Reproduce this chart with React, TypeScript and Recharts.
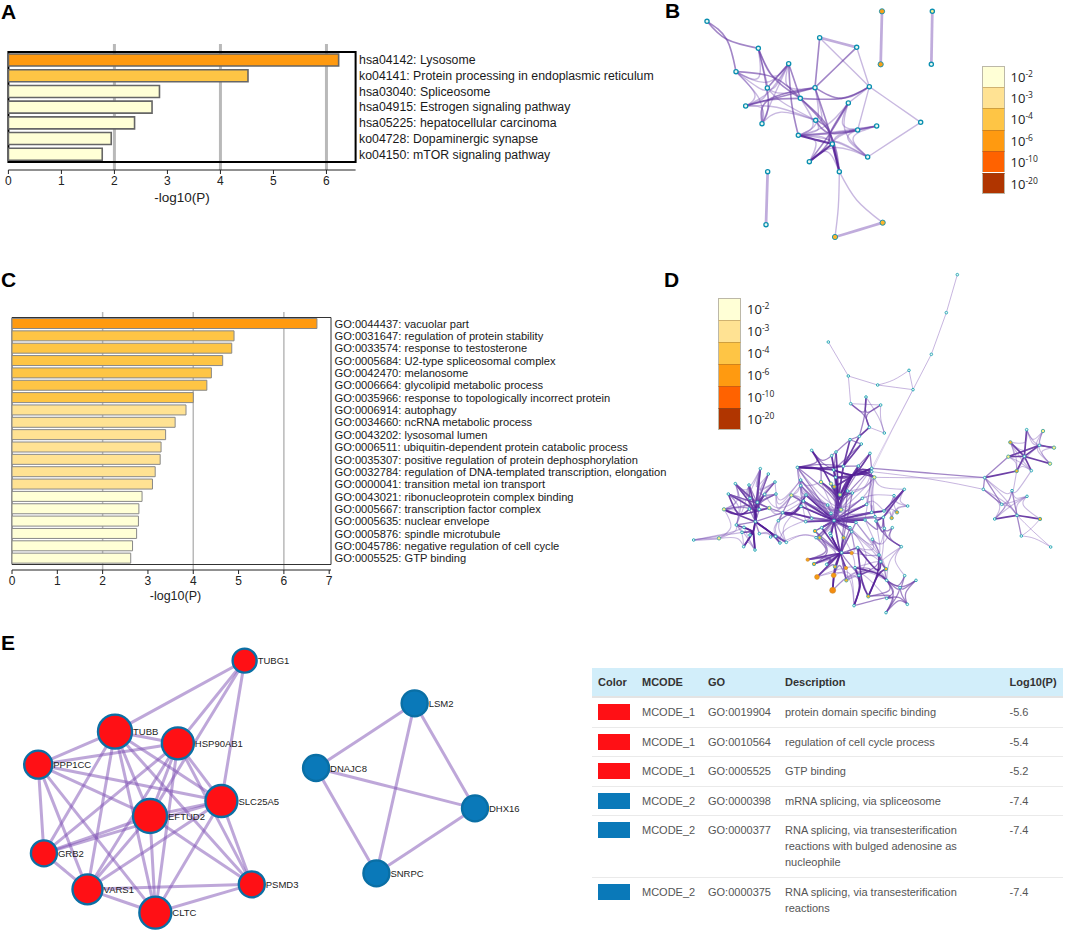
import { Bar, BarChart, CartesianGrid, Cell, ReferenceArea, Scatter, ScatterChart, XAxis, YAxis } from 'recharts';

const FONT = '"Liberation Sans", Arial, sans-serif';

// panel A
const keggTerms = [
  'hsa04142: Lysosome',
  'ko04141: Protein processing in endoplasmic reticulum',
  'hsa03040: Spliceosome',
  'hsa04915: Estrogen signaling pathway',
  'hsa05225: hepatocellular carcinoma',
  'ko04728: Dopaminergic synapse',
  'ko04150: mTOR signaling pathway',
];
const keggValues = [6.23, 4.52, 2.85, 2.71, 2.38, 1.94, 1.77];
const keggTicks = [0, 1, 2, 3, 4, 5, 6];

// panel C
const goTerms = [
  'GO:0044437: vacuolar part',
  'GO:0031647: regulation of protein stability',
  'GO:0033574: response to testosterone',
  'GO:0005684: U2-type spliceosomal complex',
  'GO:0042470: melanosome',
  'GO:0006664: glycolipid metabolic process',
  'GO:0035966: response to topologically incorrect protein',
  'GO:0006914: autophagy',
  'GO:0034660: ncRNA metabolic process',
  'GO:0043202: lysosomal lumen',
  'GO:0006511: ubiquitin-dependent protein catabolic process',
  'GO:0035307: positive regulation of protein dephosphorylation',
  'GO:0032784: regulation of DNA-templated transcription, elongation',
  'GO:0000041: transition metal ion transport',
  'GO:0043021: ribonucleoprotein complex binding',
  'GO:0005667: transcription factor complex',
  'GO:0005635: nuclear envelope',
  'GO:0005876: spindle microtubule',
  'GO:0045786: negative regulation of cell cycle',
  'GO:0005525: GTP binding',
];
const goValues = [6.73, 4.9, 4.85, 4.65, 4.4, 4.3, 4.0, 3.84, 3.6, 3.39, 3.29, 3.27, 3.16, 3.1, 2.87, 2.8, 2.79, 2.75, 2.66, 2.62];
const goTicks = [0, 1, 2, 3, 4, 5, 6, 7];
const gridValues = [2, 4, 6];

const legendExponents = ['-2', '-3', '-4', '-6', '-10', '-20'];
const legendColors = ['#ffffd6', '#ffe293', '#fec545', '#ff9a10', '#ff6200', '#b03500'];

// network nodes: id, x, y, kind. Units are those of each panel's own layout
type NodeRow = [string, number, number, string];
type EdgeGroup = { via?: number[]; bend?: number; weight: string; pairs: string };

const bNodes: NodeRow[] = [
  ['n0', 141, 64, 'c'], ['n1', 295, 145, 'c'], ['n2', 386, 191, 'c'], ['n3', 228, 215, 'c'], ['n4', 322, 264, 'c'],
  ['n5', 257, 318, 'c'], ['n6', 306, 371, 'c'], ['n7', 465, 263, 'c'], ['n8', 421, 295, 'c'], ['n9', 479, 113, 'c'],
  ['n10', 590, 142, 'c'], ['n11', 628, 260, 'c'], ['n12', 565, 309, 'c'], ['n13', 467, 361, 'c'], ['n14', 415, 406, 'c'],
  ['n15', 593, 390, 'c'], ['n16', 650, 378, 'c'], ['n17', 517, 432, 'c'], ['n18', 623, 471, 'c'], ['n19', 448, 485, 'c'],
  ['n20', 538, 515, 'c'], ['n21', 782, 367, 'c'], ['n22', 668, 668, 'a'], ['n23', 525, 711, 'a'], ['n24', 666, 34, 'o'],
  ['n25', 662, 193, 'o'], ['n26', 817, 34, 'y'], ['n27', 814, 193, 'c'], ['n28', 323, 515, 'c'], ['n29', 318, 674, 'c'],
];
const bEdges: EdgeGroup[] = [
  { via: [335, 300], bend: 0.45, weight: 'light', pairs: 'n1-n3 n3-n5 n5-n6 n1-n2 n2-n3 n2-n5 n2-n4 n3-n4 n4-n5 n2-n6 n3-n6 n1-n4 n4-n7 n2-n7 n5-n13 n6-n13 n4-n13' },
  { via: [510, 400], bend: 0.45, weight: 'light', pairs: 'n12-n15 n15-n16 n15-n18 n16-n18 n12-n18 n14-n19 n19-n20 n17-n18 n14-n17 n18-n19 n12-n14 n16-n17 n14-n18 n15-n17 n13-n14 n8-n14 n7-n14 n7-n13 n14-n16' },
  { weight: 'light', pairs: 'n9-n11 n10-n11 n11-n12 n11-n15 n11-n21 n18-n21' },
  { weight: 'mid', pairs: 'n7-n9 n7-n10 n2-n4' },
  { via: [200, 118], bend: 1, weight: 'mid', pairs: 'n0-n1 n0-n3' },
  { via: [545, 295], bend: 1, weight: 'mid', pairs: 'n11-n7 n11-n8' },
  { via: [395, 310], bend: 1, weight: 'mid', pairs: 'n2-n14' },
  { via: [325, 300], bend: 1, weight: 'mid', pairs: 'n1-n6 n5-n7 n5-n8 n6-n7' },
  { via: [340, 232], bend: 1, weight: 'mid', pairs: 'n3-n8 n1-n8' },
  { weight: 'mid', pairs: 'n2-n8' },
  { via: [510, 400], bend: 1, weight: 'mid', pairs: 'n14-n15 n12-n19 n7-n20 n8-n20 n13-n20 n12-n17 n8-n19 n13-n15' },
  { weight: 'dark', pairs: 'n17-n19 n17-n20 n14-n17' },
  { weight: 'mid', pairs: 'n15-n16' },
  { via: [590, 600], bend: 1, weight: 'light', pairs: 'n20-n22' },
  { via: [535, 620], bend: 1, weight: 'light', pairs: 'n20-n23' },
  { weight: 'thick', pairs: 'n9-n10 n22-n23 n24-n25 n26-n27 n28-n29' },
];

const dNodes: NodeRow[] = [
  ['t1', 862, 29, 'c'], ['t2', 829, 143, 'c'], ['t3', 784, 268, 'c'], ['t4', 729, 374, 'c'], ['t5', 717, 316, 'c'], ['t6', 623, 360, 'c'],
  ['t7', 535, 333, 'c'], ['t8', 475, 231, 'c'], ['t9', 542, 416, 'c'], ['t10', 588, 396, 'c'], ['t11', 632, 420, 'c'], ['t12', 598, 487, 'c'],
  ['t13', 643, 504, 'c'], ['t14', 568, 514, 'c'], ['t15', 540, 524, 'c'], ['t16', 574, 537, 'c'],
  ['u1', 425, 556, 'c'], ['u2', 382, 607, 'c'], ['u3', 485, 572, 'c'], ['u4', 498, 561, 'c'], ['u5', 520, 604, 'c'], ['u6', 491, 615, 'c'],
  ['u7', 600, 565, 'c'], ['u8', 565, 603, 'c'], ['u9', 605, 610, 'c'], ['u10', 605, 620, 'c'], ['u11', 613, 637, 'y'], ['u12', 497, 637, 'c'],
  ['c1', 453, 651, 'y'], ['c2', 483, 656, 'y'], ['c3', 493, 665, 'a'], ['c4', 510, 689, 'y'], ['c5', 533, 678, 'c'], ['c6', 547, 684, 'c'],
  ['c7', 513, 734, 'y'], ['c8', 492, 767, 'c'], ['c9', 392, 645, 'c'], ['c10', 392, 662, 'c'], ['c11', 364, 691, 'y'], ['c12', 408, 690, 'c'],
  ['c13', 400, 708, 'c'], ['c14', 393, 724, 'c'], ['c15', 425, 760, 'c'], ['c16', 407, 770, 'c'], ['c17', 473, 720, 'c'], ['c18', 483, 745, 'c'],
  ['c19', 577, 700, 'c'], ['c20', 590, 718, 'c'], ['c21', 605, 742, 'c'], ['c22', 585, 765, 'c'], ['c23', 615, 755, 'c'], ['c24', 558, 772, 'c'],
  ['c25', 540, 788, 'c'], ['c26', 545, 800, 'c'], ['c27', 480, 805, 'c'], ['c28', 455, 788, 'c'], ['c29', 435, 798, 'a'], ['c30', 449, 818, 'a'],
  ['c31', 483, 812, 'c'], ['c32', 521, 818, 'a'], ['c33', 438, 818, 'c'],
  ['r1', 703, 673, 'c'], ['r2', 672, 692, 'c'], ['r3', 713, 723, 'c'], ['r4', 681, 742, 'a'], ['r5', 665, 759, 'a'], ['r6', 642, 738, 'c'],
  ['r7', 640, 757, 'c'], ['r8', 618, 768, 'c'], ['r9', 667, 788, 'c'], ['r10', 643, 790, 'c'], ['r11', 607, 823, 'c'], ['r12', 694, 845, 'c'],
  ['l1', 413, 884, 'o'], ['l2', 432, 897, 'a'], ['l3', 441, 936, 'o2'], ['l4', 491, 931, 'o2'], ['l5', 488, 976, 'o3'], ['l6', 495, 905, 'a'],
  ['l7', 528, 909, 'o'], ['l8', 470, 898, 'c'], ['l9', 545, 864, 'o'], ['l10', 563, 848, 'c'], ['l11', 515, 863, 'c'], ['l12', 529, 946, 'a'],
  ['l13', 567, 931, 'c'], ['l14', 555, 908, 'c'], ['l15', 627, 870, 'c'], ['l16', 632, 890, 'c'], ['l17', 648, 912, 'a'], ['l18', 650, 946, 'c'],
  ['l19', 704, 932, 'c'], ['l20', 738, 946, 'c'], ['l21', 690, 968, 'c'], ['l22', 650, 1000, 'c'], ['l23', 595, 994, 'a'], ['l24', 552, 1022, 'c'],
  ['l25', 648, 1043, 'c'], ['l26', 712, 1018, 'c'],
  ['a1', 271, 611, 'c'], ['a2', 295, 627, 'c'], ['a3', 196, 656, 'c'], ['a4', 237, 660, 'c'], ['a5', 175, 687, 'c'], ['a6', 315, 651, 'c'],
  ['a7', 318, 687, 'c'], ['a8', 284, 688, 'c'], ['a9', 240, 700, 'c'], ['a10', 262, 712, 'c'], ['a11', 162, 733, 'y'], ['a12', 238, 732, 'c'],
  ['a13', 298, 729, 'y'], ['a14', 268, 733, 'c'], ['a15', 338, 743, 'c'], ['a16', 325, 767, 'c'], ['a17', 256, 770, 'c'], ['a18', 199, 780, 'c'],
  ['a19', 222, 787, 'c'], ['a20', 216, 802, 'c'], ['a21', 147, 820, 'y'], ['a22', 71, 825, 'c'], ['a23', 221, 845, 'c'], ['a24', 255, 855, 'c'],
  ['a25', 268, 806, 'c'], ['a26', 302, 816, 'c'], ['a27', 317, 814, 'c'], ['a28', 330, 834, 'c'], ['a29', 349, 832, 'c'], ['a30', 240, 810, 'c'],
  ['k1', 1070, 494, 'c'], ['k2', 1119, 498, 'y'], ['k3', 1152, 548, 'y'], ['k4', 1140, 596, 'y'], ['k5', 1108, 541, 'c'], ['k6', 1063, 574, 'c'],
  ['k7', 1021, 532, 'a'], ['k8', 1015, 575, 'y'], ['k9', 1040, 618, 'a'], ['k10', 1084, 617, 'c'], ['k11', 944, 638, 'c'], ['k12', 940, 673, 'c'],
  ['k13', 1026, 677, 'c'], ['k14', 1071, 694, 'c'], ['k15', 995, 718, 'c'], ['k16', 974, 762, 'c'], ['k17', 1041, 751, 'c'], ['k18', 1110, 762, 'a'],
  ['k19', 1054, 813, 'c'], ['k20', 1142, 846, 'c'],
];
const dEdges: EdgeGroup[] = [
  { weight: 'faint', pairs: 't1-t2 t2-t3 t3-t4 t4-t6 t4-t5 t6-t7 t7-t8 t7-t9 t9-t11 t12-t13' },
  { via: [665, 495], bend: 0.4, weight: 'wisp', pairs: 't4-u10 t4-u9' },
  { via: [670, 345], bend: 1, weight: 'faint', pairs: 't5-t6' },
  { via: [630, 460], bend: 0.7, weight: 'light', pairs: 't11-t13 t10-t13' },
  { via: [585, 450], bend: 0.8, weight: 'mid', pairs: 't9-t12 t10-t12 t11-t12 t9-t10 t10-t11 t10-t14' },
  { weight: 'dark', pairs: 't14-u5 t16-u5 t15-u5 t12-t14' },
  { weight: 'mid', pairs: 't14-t15 t15-t16 t16-u6 u8-u5 u7-u8 u7-u9 t15-u4 u3-u4 u4-u6 u3-u6' },
  { via: [455, 595], bend: 0.7, weight: 'mid', pairs: 'u1-u3 u1-u6 u1-u2 u2-u5 u1-c1' },
  { via: [440, 610], bend: 1, weight: 'dark', pairs: 'u2-u6 u2-u12 u2-u5' },
  { via: [550, 630], bend: 1, weight: 'dark', pairs: 'u9-u6 u10-c8 u11-c8 u8-c3 u9-u12 u10-u6 u11-c4 u7-u12' },
  { via: [505, 700], bend: 0.9, weight: 'dark', pairs: 'u6-c8 u12-c8 u5-c8 c4-c8 c3-c8 c2-c8 c1-c8 c5-c8 c6-c8 u3-c8 u4-c8 u8-c8 u1-c8' },
  { via: [505, 700], bend: 0.5, weight: 'mid', pairs: 'u6-c8 u5-c8 c4-c8 c2-c8 u7-c8 u9-c8 u2-c7 c1-c7 c5-c7 c6-c7' },
  { weight: 'mid', pairs: 'c7-c8 c17-c8 c18-c8 c12-c8 c13-c8 c14-c8 c15-c8 c16-c8 c19-c8 c20-c8 c21-c8 c22-c8 c23-c8 c24-c8 c25-c8 c26-c8 c27-c8 c28-c8 c29-c8 c30-c8 c31-c8 c32-c8 c33-c8 c9-c8 c10-c8 c11-c8 u2-c8 a15-c8 r6-c8 r7-c8' },
  { weight: 'dark', pairs: 'c14-c8 c16-c8 c21-c8 c22-c8 c28-c8 c31-c8 c25-c8 c12-c8 c13-c8 c20-c8 c24-c8' },
  { via: [500, 765], bend: 0.6, weight: 'light', pairs: 'c9-c20 c10-c21 c11-c22 c12-c19 c13-c23 c14-c24 c15-c25 c16-c26 c17-c22 u2-c19 u9-c17 u11-c16 c1-c25 c2-c26 c5-c33 c6-c29 c9-c24 c10-c25 c11-c26 c12-c20 c13-c21 c19-c28 c20-c29 c21-c33 c23-c30' },
  { via: [390, 690], bend: 0.5, weight: 'light', pairs: 'c9-c11 c9-c10 c10-c12 c11-c13 c12-c14 c13-c15 c9-c15 u2-c9 u2-c10 u2-c1 c11-c14 c10-c16 c9-c12 c10-c13 c9-c17 c10-c17 c12-c17' },
  { via: [600, 680], bend: 0.4, weight: 'light', pairs: 'u11-c19 u10-c20 u11-r1 c19-c20 c20-c21 c21-c23 u11-c21 c19-r2 c20-r6 u9-c21 u10-c22 u11-c23 c5-u11 c6-u10' },
  { weight: 'dark', pairs: 'r1-r7 r1-r6 c21-r6 r7-r8' },
  { via: [665, 720], bend: 0.4, weight: 'light', pairs: 'r1-r2 r2-r3 r3-r4 r2-r4 r4-r5 r4-r6 r5-r7 r5-r3 r1-r3 r6-r5 r2-r6 r2-r7' },
  { via: [640, 820], bend: 0.5, weight: 'mid', pairs: 'r7-r9 r7-r10 r8-r12 r9-r12 r10-r12 r8-r10 r8-c22 r7-c23' },
  { via: [640, 880], bend: 0.4, weight: 'light', pairs: 'r11-l15 r11-r10 r12-l16 r12-l19 c24-r11 c26-r11 c25-l15 r9-r11 l10-r11 c24-l15 c25-l13 c26-l16 c22-l15 r8-l15 r10-l16 r11-l17 r12-l18 l9-l15 l10-l17 l14-l16 l13-l18 l12-l18 l12-l13' },
  { via: [510, 865], bend: 0.7, weight: 'dark', pairs: 'l1-l11 l2-l11 l3-l11 l4-l11 l6-l11 l7-l11 l8-l11 l9-l11 c8-l11 c27-l11 c31-l11 c28-l11 c32-l11' },
  { via: [490, 950], bend: 0.8, weight: 'dark', pairs: 'l5-l4 l5-l6' },
  { via: [510, 865], bend: 0.5, weight: 'mid', pairs: 'l12-l11 l13-l11 l10-l11 c30-l11 c32-l11 c33-l1 c29-l2 l1-l8 l2-l8 l3-l4 l4-l12 l7-l12 l9-l10 c5-l11 c6-l11 c24-l11 c25-l11 c26-l11 c29-l11' },
  { via: [560, 880], bend: 0.5, weight: 'light', pairs: 'l5-l23 l5-l18 l12-l22 l3-l12 l1-c30 l2-c33 c26-l9 c25-l10 c32-l14 l10-l15 l3-l24 l4-l24 l7-l23' },
  { via: [575, 960], bend: 0.7, weight: 'dark', pairs: 'l14-l24 l13-l24 l10-l23' },
  { via: [625, 925], bend: 0.8, weight: 'dark', pairs: 'l10-l16 l14-l18 l15-l23 l23-l17' },
  { via: [690, 985], bend: 0.5, weight: 'mid', pairs: 'l22-l25 l18-l25 l18-l22 l21-l25 l18-l21 l19-l18 l20-l18 l19-l21 l20-l21 l20-l26 l21-l26 l26-l22 l26-l25 l23-l18 l23-l22 l24-l22' },
  { via: [640, 905], bend: 0.5, weight: 'mid', pairs: 'l15-l17 l16-l17 l17-l18 l15-l13 l15-l16 l13-l14' },
  { via: [256, 735], bend: 0.85, weight: 'dark', pairs: 'a1-a17 a3-a17 a4-a17 a5-a17 a8-a17 a10-a17' },
  { via: [262, 715], bend: 0.7, weight: 'mid', pairs: 'a3-a10 a4-a10 a5-a10 a1-a10 a1-a14 a2-a14 a6-a14 a7-a14 a8-a14 a9-a14 a11-a14 a3-a13 a5-a13' },
  { via: [205, 750], bend: 0.9, weight: 'dark', pairs: 'a11-a17 a5-a12 a11-a13' },
  { via: [250, 800], bend: 0.9, weight: 'dark', pairs: 'a17-a24 a17-a23 a18-a30 a19-a30 a20-a30 a24-a30 a23-a30' },
  { via: [305, 805], bend: 0.9, weight: 'dark', pairs: 'a17-a29 a17-a28 a17-a26' },
  { weight: 'mid', pairs: 'a18-a17 a25-a17 a9-a17 a12-a17 a14-a17 a13-a14 a8-a10 a2-a10 a6-a10 a7-a10 a15-a17 a15-a13 a16-a15 a12-a14 a4-a12 a3-a9 a4-a9' },
  { via: [370, 745], bend: 1, weight: 'dark', pairs: 'c14-a15 c15-a15 c12-a15' },
  { weight: 'mid', pairs: 'a15-c16 c11-a15 c14-a16' },
  { via: [230, 720], bend: 0.45, weight: 'light', pairs: 'a1-a2 a2-a6 a6-a7 a7-a13 a1-a4 a3-a4 a3-a5 a5-a11 a11-a18 a5-a18 a3-a11 a1-a3 a1-a6 a1-a7 a2-a7 a5-a9 a11-a14 a11-a12 a3-a18 a4-a18' },
  { via: [225, 800], bend: 0.4, weight: 'light', pairs: 'a18-a23 a21-a18 a22-a19 a22-a20 a21-a23 a18-a24 a11-a21 a19-a24 a23-a24' },
  { via: [300, 790], bend: 0.4, weight: 'light', pairs: 'a16-a27 a26-a29 a27-a29 a25-a28 a25-a26 a16-a28 a29-c14 a28-c15 a13-c10 a7-c9 a6-c9 a8-c12 a7-c11 a13-c13 a15-a29' },
  { via: [400, 800], bend: 0.6, weight: 'faint', pairs: 'a29-c30 a28-c33' },
  { weight: 'thick', pairs: 'a21-a22' },
  { weight: 'mid', pairs: 'u9-k11' },
  { via: [800, 640], bend: 0.5, weight: 'faint', pairs: 'u10-k12 u11-k11' },
  { weight: 'dark', pairs: 'k1-k6 k3-k5 k4-k6 k6-k7 k5-k8 k6-k8 k6-k9 k6-k10 k9-k11 k16-k17 k17-k18 k5-k6' },
  { via: [1085, 550], bend: 0.5, weight: 'light', pairs: 'k1-k5 k1-k2 k2-k5 k2-k3 k3-k4 k4-k5 k1-k7 k2-k4 k1-k3' },
  { via: [1050, 585], bend: 0.4, weight: 'light', pairs: 'k7-k8 k8-k9 k9-k10 k7-k9 k8-k10 k7-k10 k5-k9 k5-k7' },
  { weight: 'mid', pairs: 'k8-k11 k11-k12 k12-k15 k11-k15 k13-k17 k17-k19' },
  { via: [1025, 715], bend: 0.45, weight: 'light', pairs: 'k11-k13 k11-k17 k12-k16 k15-k16 k13-k15 k13-k14 k13-k16 k14-k15 k14-k16 k14-k17 k14-k18 k15-k17 k9-k13 k10-k13 k12-k17' },
  { via: [1085, 800], bend: 0.3, weight: 'faint', pairs: 'k18-k19 k19-k20 k17-k20' },
];

// panel E nodes: name, x, y, weight, in the stretched units of the layout
const eNodes: NodeRow[] = [
  ['TUBG1', 685, 92, 'r0'], ['TUBB', 322, 305, 'r5'], ['HSP90AB1', 498, 340, 'r4'], ['PPP1CC', 107, 404, 'r2'], ['SLC25A5', 620, 513, 'r4'],
  ['EFTUD2', 420, 558, 'r5'], ['GRB2', 123, 670, 'r1'], ['VARS1', 245, 778, 'r3'], ['PSMD3', 705, 763, 'r1'], ['CLTC', 435, 848, 'r4'],
  ['LSM2', 1161, 220, 'b1'], ['DNAJC8', 885, 414, 'b1'], ['DHX16', 1330, 535, 'b1'], ['SNRPC', 1054, 730, 'b1'],
];
const eEdges: EdgeGroup[] = [
  {
    weight: 'ppi',
    pairs: 'TUBB-TUBG1 HSP90AB1-TUBG1 EFTUD2-TUBG1 SLC25A5-TUBG1 TUBB-HSP90AB1 TUBB-PPP1CC TUBB-SLC25A5 TUBB-EFTUD2 TUBB-GRB2 TUBB-VARS1 TUBB-CLTC TUBB-PSMD3 HSP90AB1-PPP1CC HSP90AB1-SLC25A5 HSP90AB1-EFTUD2 HSP90AB1-GRB2 HSP90AB1-VARS1 HSP90AB1-CLTC HSP90AB1-PSMD3 PPP1CC-SLC25A5 PPP1CC-EFTUD2 PPP1CC-GRB2 PPP1CC-VARS1 PPP1CC-CLTC SLC25A5-EFTUD2 SLC25A5-GRB2 SLC25A5-VARS1 SLC25A5-CLTC SLC25A5-PSMD3 EFTUD2-GRB2 EFTUD2-VARS1 EFTUD2-CLTC EFTUD2-PSMD3 GRB2-VARS1 VARS1-CLTC VARS1-PSMD3 CLTC-PSMD3 LSM2-DNAJC8 LSM2-SNRPC LSM2-DHX16 DNAJC8-DHX16 DNAJC8-SNRPC DHX16-SNRPC',
  },
];

const tableRows = [
  ['#ff1015', 'MCODE_1', 'GO:0019904', 'protein domain specific binding', '-5.6'],
  ['#ff1015', 'MCODE_1', 'GO:0010564', 'regulation of cell cycle process', '-5.4'],
  ['#ff1015', 'MCODE_1', 'GO:0005525', 'GTP binding', '-5.2'],
  ['#0a79b9', 'MCODE_2', 'GO:0000398', 'mRNA splicing, via spliceosome', '-7.4'],
  ['#0a79b9', 'MCODE_2', 'GO:0000377', 'RNA splicing, via transesterification reactions with bulged adenosine as nucleophile', '-7.4'],
  ['#0a79b9', 'MCODE_2', 'GO:0000375', 'RNA splicing, via transesterification reactions', '-7.4'],
];
const tableHeader = ['Color', 'MCODE', 'GO', 'Description', 'Log10(P)'];

const WEIGHTS: Record<string, { stroke: string; width: number }> = {
  wisp: { stroke: 'rgba(130,90,185,0.3)', width: 0.9 },
  faint: { stroke: 'rgba(130,90,185,0.45)', width: 1 },
  light: { stroke: 'rgba(125,85,180,0.42)', width: 1.1 },
  mid: { stroke: 'rgba(105,60,165,0.62)', width: 1.3 },
  dark: { stroke: 'rgba(84,30,150,0.85)', width: 1.7 },
  thick: { stroke: 'rgba(130,90,185,0.5)', width: 2.2 },
  ppi: { stroke: 'rgba(125,80,180,0.5)', width: 3 },
};

const bandColor = (v: number) => {
  if (v >= 6) return legendColors[3];
  if (v >= 4) return legendColors[2];
  if (v >= 3) return legendColors[1];
  return legendColors[0];
};

function PanelLetter({ text, left, top }: { text: string; left: number; top: number }) {
  return <div style={{ position: 'absolute', left, top, font: `bold 21px ${FONT}`, lineHeight: '21px', color: '#000' }}>{text}</div>;
}

function TermChart(props: {
  terms: string[]; values: number[]; ticks: number[]; max: number; left: number; top: number; width: number; height: number;
  plotLeft: number; plotTop: number; axisWidth: number; axisHeight: number; barSize: number; pad: number;
  barStroke: string; barStrokeWidth: number; gridWidth: number; frameWidth: number; frame: string; fontSize: number;
  labelSize: number; labelOffset: number; labelDx: number;
}) {
  const data = props.terms.map((term, i) => ({ term, value: props.values[i] }));
  // plain text so that the long terms stay on one line
  const termTick = ({ x, y, payload }: any) => (
    <text x={x + 3.5} y={y + props.fontSize * 0.36} fontSize={props.fontSize} fontFamily={FONT} fill="#1a1a1a">
      {payload.value}
    </text>
  );
  return (
    <div style={{ position: 'absolute', left: props.left, top: props.top }}>
      <BarChart
        width={props.width}
        height={props.height}
        data={data}
        layout="vertical"
        barCategoryGap={0}
        margin={{ top: props.plotTop, left: props.plotLeft, right: 0, bottom: 0 }}
      >
        <CartesianGrid horizontal={false} verticalValues={gridValues} stroke="#b9b9b9" strokeWidth={props.gridWidth} />
        <XAxis
          type="number"
          domain={[0, props.max]}
          ticks={props.ticks}
          height={props.axisHeight}
          tickSize={4}
          tickMargin={2}
          tick={{ fontSize: 12, fill: '#222', fontFamily: FONT }}
          stroke="#222"
          label={{ value: '-log10(P)', position: 'insideBottom', offset: props.labelOffset, dx: props.labelDx, fontSize: props.labelSize, fill: '#222', fontFamily: FONT }}
        />
        <YAxis
          type="category"
          dataKey="term"
          orientation="right"
          width={props.axisWidth}
          interval={0}
          axisLine={false}
          tickLine={false}
          tickSize={0}
          tickMargin={0}
          padding={{ top: props.pad, bottom: props.pad }}
          tick={termTick}
        />
        <Bar dataKey="value" barSize={props.barSize} stroke={props.barStroke} strokeWidth={props.barStrokeWidth} isAnimationActive={false}>
          {data.map((d) => (
            <Cell key={d.term} fill={bandColor(d.value)} />
          ))}
        </Bar>
        <ReferenceArea x1={0} x2={props.max} fill="none" stroke={props.frame} strokeWidth={props.frameWidth} fillOpacity={0} />
      </BarChart>
    </div>
  );
}

const NoPoint = () => <g />;

function NetworkChart(props: {
  nodes: NodeRow[]; edges: EdgeGroup[]; left: number; top: number; width: number; height: number; xMax: number; yMax: number;
  shape: (p: any) => any; lineScale?: number;
}) {
  const pos: Record<string, number[]> = {};
  props.nodes.forEach(([id, x, y]) => {
    pos[id] = [x, y];
  });
  const lines: { key: string; weight: string; pts: { x: number; y: number }[] }[] = [];
  props.edges.forEach((group, g) => {
    group.pairs.split(' ').forEach((pair) => {
      const [a, b] = pair.split('-');
      const [ax, ay] = pos[a];
      const [bx, by] = pos[b];
      const mx = (ax + bx) / 2;
      const my = (ay + by) / 2;
      const via = group.via ?? [mx, my];
      const bend = group.bend ?? 0;
      lines.push({
        key: `${g}-${pair}`,
        weight: group.weight,
        pts: [{ x: ax, y: ay }, { x: mx + (via[0] - mx) * bend, y: my + (via[1] - my) * bend }, { x: bx, y: by }],
      });
    });
  });
  const nodeData = props.nodes.map(([id, x, y, kind]) => ({ id, x, y, kind }));
  const lineScale = props.lineScale ?? 1;
  return (
    <div style={{ position: 'absolute', left: props.left, top: props.top }}>
      <ScatterChart width={props.width} height={props.height} margin={{ top: 0, right: 0, bottom: 0, left: 0 }}>
        <XAxis type="number" dataKey="x" domain={[0, props.xMax]} hide />
        <YAxis type="number" dataKey="y" domain={[0, props.yMax]} reversed hide />
        {lines.map((l) => (
          <Scatter
            key={l.key}
            data={l.pts}
            line={{ stroke: WEIGHTS[l.weight].stroke, strokeWidth: WEIGHTS[l.weight].width * lineScale }}
            lineJointType="natural"
            shape={NoPoint}
            isAnimationActive={false}
          />
        ))}
        <Scatter data={nodeData} shape={props.shape} isAnimationActive={false} />
      </ScatterChart>
    </div>
  );
}

const DOT_FILL: Record<string, string> = { c: '#eefaf2', y: '#fff08a', a: '#fbb52c', o: '#f7a11a', o2: '#f89a12', o3: '#f48c10' };

const bNodeShape = (p: any) => {
  const kind = p.payload.kind;
  const warm = kind === 'a' || kind === 'o';
  return <circle cx={p.cx} cy={p.cy} r={warm ? 2.6 : 2.1} fill={DOT_FILL[kind]} stroke="#0a8fb0" strokeWidth={warm ? 0.9 : 1.3} />;
};

const dNodeShape = (p: any) => {
  const kind = p.payload.kind;
  const r = kind === 'o3' ? 3 : kind === 'o2' ? 2.4 : kind === 'c' ? 1.3 : 1.7;
  const stroke = kind[0] === 'o' ? '#c98a30' : kind === 'c' ? '#22a5b5' : '#4aa8a0';
  return <circle cx={p.cx} cy={p.cy} r={r} fill={DOT_FILL[kind]} stroke={stroke} strokeWidth={kind[0] === 'o' ? 0.6 : 0.9} />;
};

const eNodeShape = (p: any) => {
  const { kind, id } = p.payload;
  const r = 12 + Number(kind.slice(1)) * 1;
  const fill = kind[0] === 'r' ? '#ff1015' : '#0a79b9';
  return (
    <g>
      <circle cx={p.cx} cy={p.cy} r={r} fill={fill} stroke="#0a6fa5" strokeWidth={2.4} />
      <text x={p.cx + r + 1} y={p.cy + 3.5} fontSize={9.5} fontFamily={FONT} fill="#222">
        {id}
      </text>
    </g>
  );
};

function PLegend({ left, top, rowHeight }: { left: number; top: number; rowHeight: number }) {
  return (
    <div style={{ position: 'absolute', left, top }}>
      {legendColors.map((c, i) => (
        <div key={c} style={{ position: 'absolute', left: 0, top: i * rowHeight, width: 23, height: rowHeight, boxSizing: 'border-box', background: c, borderTop: i ? `1px solid rgba(120,90,50,0.35)` : '1px solid #bcb8a8', borderLeft: '1px solid #bcb8a8', borderRight: '1px solid #bcb8a8', borderBottom: i === 5 ? '1px solid #bcb8a8' : 'none' }} />
      ))}
      {legendExponents.map((e, i) => (
        <div key={e} style={{ position: 'absolute', left: 29, top: i * rowHeight + 3, font: `13px "Open Sans", ${FONT}`, lineHeight: '16px', color: '#222', whiteSpace: 'nowrap' }}>
          10<sup style={{ fontSize: 8.5, lineHeight: 0 }}>{e}</sup>
        </div>
      ))}
    </div>
  );
}

const COL_WIDTHS = [50, 66, 77, 224.5, 53.5];

function MiniTable() {
  const cell = { padding: '6.25px 0 6.25px 0', verticalAlign: 'top' as const, textAlign: 'left' as const };
  return (
    <table style={{ position: 'absolute', left: 592, top: 668, width: 471, tableLayout: 'fixed', borderCollapse: 'collapse', font: `11px ${FONT}`, lineHeight: '16px', color: '#555' }}>
      <colgroup>
        {COL_WIDTHS.map((w, i) => (
          <col key={i} style={{ width: w }} />
        ))}
      </colgroup>
      <thead>
        <tr style={{ background: '#d2eefa', color: '#333', height: 28, borderBottom: '2px solid #e4e4e4' }}>
          {tableHeader.map((h, i) => (
            <th key={h} style={{ ...cell, padding: i === 0 ? '6px 0 6px 6px' : '6px 0', fontWeight: 700 }}>{h}</th>
          ))}
        </tr>
      </thead>
      <tbody>
        {tableRows.map((row, r) => (
          <tr key={row[2]} style={{ borderBottom: r < tableRows.length - 1 ? '1.5px solid #eaeaea' : 'none' }}>
            <td style={{ ...cell, paddingLeft: 6 }}>
              <div style={{ width: 32, height: 16, background: row[0] }} />
            </td>
            {row.slice(1).map((t, i) => (
              <td key={i} style={i === 2 ? { ...cell, paddingRight: 46 } : cell}>{t}</td>
            ))}
          </tr>
        ))}
      </tbody>
    </table>
  );
}

export default function App() {
  return (
    <div style={{ position: 'absolute', left: 0, top: 0, width: 1065, height: 932, background: '#fff', overflow: 'hidden' }}>
      <PanelLetter text="A" left={1} top={1} />
      <PanelLetter text="B" left={665} top={0} />
      <PanelLetter text="C" left={1} top={269} />
      <PanelLetter text="D" left={664} top={269} />
      <PanelLetter text="E" left={1} top={632} />

      <TermChart
        terms={keggTerms} values={keggValues} ticks={keggTicks} max={6.55}
        left={0} top={0} width={660} height={215} plotLeft={8.4} plotTop={44} axisWidth={304.4} axisHeight={45}
        barSize={12} pad={8} barStroke="#666" barStrokeWidth={1.6} gridWidth={3} frameWidth={2} frame="#000" fontSize={12.3}
        labelSize={13.5} labelOffset={13} labelDx={0}
      />
      <TermChart
        terms={goTerms} values={goValues} ticks={goTicks} max={7.04}
        left={0} top={265} width={670} height={350} plotLeft={12} plotTop={47} axisWidth={339} axisHeight={45}
        barSize={10} pad={5.5} barStroke="#888" barStrokeWidth={1} gridWidth={1.5} frameWidth={1} frame="#333" fontSize={11.15}
        labelSize={12.5} labelOffset={15} labelDx={4}
      />

      <NetworkChart nodes={bNodes} edges={bEdges} left={660} top={0} width={405} height={260} xMax={1215} yMax={780} shape={bNodeShape} lineScale={1.25} />
      <PLegend left={981.5} top={65.5} rowHeight={21.4} />

      <NetworkChart nodes={dNodes} edges={dEdges} left={670} top={265} width={395} height={360} xMax={1185} yMax={1080} shape={dNodeShape} />
      <PLegend left={718} top={297.5} rowHeight={22.1} />

      <NetworkChart nodes={eNodes} edges={eEdges} left={0} top={630} width={560} height={302} xMax={1568} yMax={906} shape={eNodeShape} />
      <MiniTable />
    </div>
  );
}
